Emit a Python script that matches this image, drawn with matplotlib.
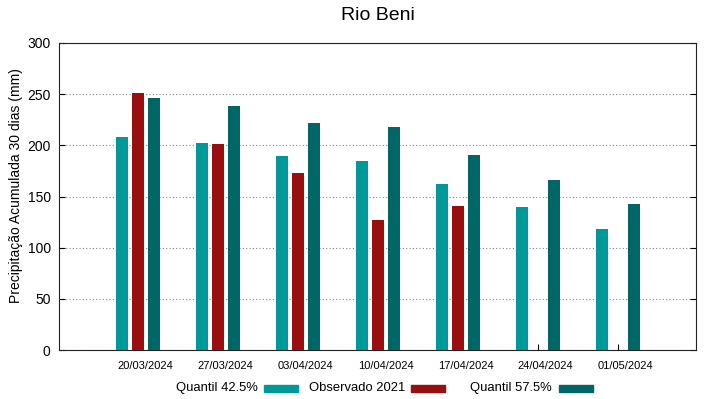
import matplotlib.pyplot as plt
import numpy as np

plt.rcParams['font.family'] = ['Liberation Sans', 'DejaVu Sans']

datas = ["20/03/2024", "27/03/2024", "03/04/2024", "10/04/2024",
         "17/04/2024", "24/04/2024", "01/05/2024"]
q425 = [208, 202, 190, 185, 162, 140, 118]
obs2021 = [251, 201, 173, 127, 141, np.nan, np.nan]
q575 = [246, 238, 222, 218, 191, 166, 143]

c_q425 = "#009999"
c_obs = "#990f0f"
c_q575 = "#006666"

fig = plt.figure(figsize=(7.19, 3.99), dpi=100)
ax = fig.add_axes([59 / 719, 1 - 350 / 399, 637 / 719, 307 / 399])

x = np.arange(len(datas))
w = 0.15
d = 0.2
ax.bar(x - d, q425, w, color=c_q425, zorder=3)
ax.bar(x, obs2021, w, color=c_obs, zorder=3)
ax.bar(x + d, q575, w, color=c_q575, zorder=3)

ax.set_xlim(-0.99, 6.97)
ax.set_ylim(0, 300)
ax.set_yticks(range(0, 301, 50))

# marcas no centro do grupo, rótulos um pouco à direita (como no original)
ax.set_xticks(x)
ax.set_xticklabels([])
ax.set_xticks(x + 0.09, minor=True)
ax.set_xticklabels(datas, minor=True, fontsize=8)
ax.tick_params(axis='x', which='minor', length=0, pad=8)
ax.tick_params(axis='x', which='major', direction='in', length=4)

ax.tick_params(axis='y', direction='in', right=True, labelsize=10, length=4, pad=6)
ax.yaxis.grid(True, linestyle=(0, (1, 2)), color='#888888', linewidth=0.8, zorder=0)
for s in ax.spines.values():
    s.set_linewidth(0.8)
    s.set_color('#222222')

ax.set_ylabel("Precipitação Acumulada 30 dias (mm)", fontsize=10)
ax.yaxis.set_label_coords(-0.056, 0.535)
fig.text(378 / 719, 1 - 16 / 399, "Rio Beni", ha='center', va='center', fontsize=14)

# legenda estilo gnuplot: texto antes da amostra
leg = [("Quantil 42.5%", c_q425, 258, 264),
       ("Observado 2021", c_obs, 405, 411),
       ("Quantil 57.5%", c_q575, 552, 559)]
ly = 1 - 388 / 399
for txt, col, tx, sx in leg:
    fig.text(tx / 719, ly, txt, ha='right', va='center', fontsize=9.4)
    fig.add_artist(plt.Rectangle((sx / 719, ly - 3.5 / 399), 34 / 719, 7 / 399,
                                 color=col, transform=fig.transFigure))

fig.savefig("out.png", dpi=100)
